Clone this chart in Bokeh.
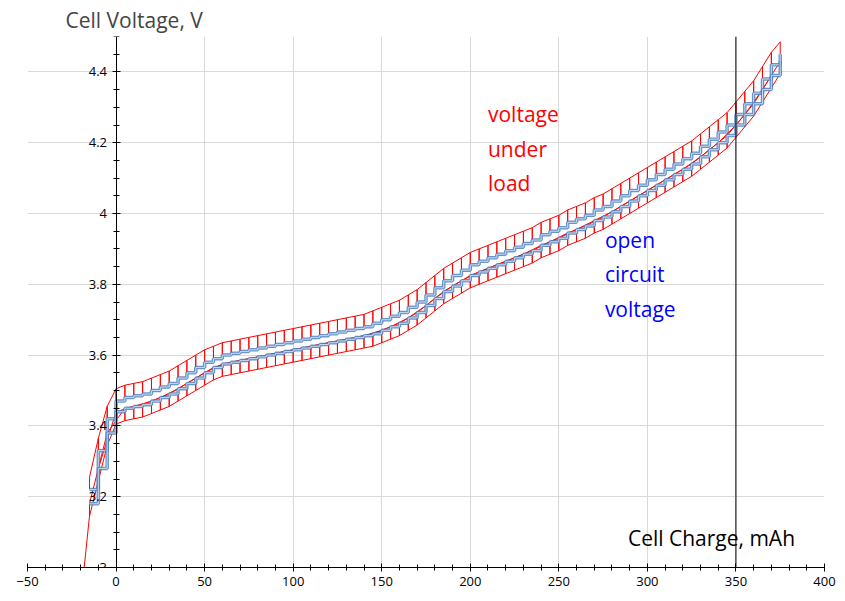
from bokeh.plotting import figure
from bokeh.models import Label, FixedTicker, CustomJSTickFormatter
from bokeh.embed import file_html
from bokeh.resources import INLINE

charge_mah = [-15, -10, -5] + list(range(0, 380, 5))
ocv_after_charge = [3.22, 3.33, 3.42, 3.47, 3.48, 3.485, 3.49, 3.50, 3.51, 3.52, 3.535, 3.55, 3.565, 3.58,
    3.59, 3.60, 3.605, 3.61, 3.615, 3.62, 3.625, 3.63, 3.635, 3.64, 3.645, 3.65, 3.655, 3.66, 3.665,
    3.67, 3.675, 3.68, 3.69, 3.70, 3.71, 3.72, 3.735, 3.75, 3.77, 3.79, 3.81, 3.825, 3.84, 3.855,
    3.865, 3.875, 3.885, 3.895, 3.905, 3.915, 3.925, 3.94, 3.95, 3.96, 3.975, 3.985, 3.995, 4.01,
    4.02, 4.035, 4.05, 4.065, 4.08, 4.095, 4.11, 4.125, 4.14, 4.155, 4.17, 4.19, 4.21, 4.23, 4.25,
    4.28, 4.31, 4.34, 4.38, 4.42, 4.45]
ocv_after_discharge = [3.18, 3.28, 3.38, 3.44, 3.45, 3.455, 3.46, 3.47, 3.48, 3.49, 3.505, 3.52, 3.535, 3.55,
    3.565, 3.575, 3.58, 3.585, 3.59, 3.595, 3.60, 3.605, 3.61, 3.615, 3.62, 3.625, 3.63, 3.635, 3.64,
    3.645, 3.65, 3.655, 3.66, 3.67, 3.68, 3.69, 3.705, 3.72, 3.74, 3.76, 3.78, 3.795, 3.81, 3.825,
    3.835, 3.845, 3.855, 3.865, 3.875, 3.885, 3.895, 3.91, 3.92, 3.93, 3.945, 3.955, 3.965, 3.98,
    3.99, 4.005, 4.02, 4.035, 4.05, 4.065, 4.08, 4.095, 4.11, 4.125, 4.14, 4.16, 4.18, 4.20, 4.22,
    4.25, 4.28, 4.31, 4.35, 4.39, 4.43]
charge_overvoltage = [0.035] * len(charge_mah)
discharge_undervoltage = [0.035] * len(charge_mah)
x_ticks = list(range(-50, 401, 50))
y_ticks = [3, 3.2, 3.4, 3.6, 3.8, 4, 4.2, 4.4]

p = figure(width=837, height=595, x_range=(-50, 400), y_range=(3, 4.5),
           output_backend="svg", toolbar_location=None,
           min_border_left=27, min_border_right=13, min_border_top=8, min_border_bottom=28)
p.outline_line_color = None
p.border_fill_color = "white"
p.title.text = "Cell Voltage, V"
p.title.text_font = "Open Sans"
p.title.text_font_size = "21px"
p.title.text_font_style = "normal"
p.title.offset = 38
p.title.standoff = 6

rx_c, ry_c, rx_d, ry_d = [], [], [], []
n = len(charge_mah)
for i in range(n - 1):
    x0, x1 = charge_mah[i], charge_mah[i + 1]
    rx_c += [x0, x0, x1, x1]
    ry_c += [ocv_after_charge[i], ocv_after_charge[i] + charge_overvoltage[i],
             ocv_after_charge[i + 1] + charge_overvoltage[i + 1], ocv_after_charge[i + 1]]
    rx_d += [x1, x1, x0, x0]
    ry_d += [ocv_after_discharge[i + 1], ocv_after_discharge[i + 1] - discharge_undervoltage[i + 1],
             ocv_after_discharge[i] - discharge_undervoltage[i], ocv_after_discharge[i]]
p.line(rx_c, ry_c, color="red", line_width=1)
p.line(rx_d, ry_d, color="red", line_width=1)
p.line([charge_mah[0], charge_mah[0] - 3], [ocv_after_discharge[0] - discharge_undervoltage[0], 3.0], color="red")

for ys in (ocv_after_charge, ocv_after_discharge):
    p.step(charge_mah, ys, mode="after", color="#4f81bd", line_width=3.5, alpha=0.85)
    p.step(charge_mah, ys, mode="after", color="#c6d9f1", line_width=1)

p.segment(x0=[350], y0=[3.0], x1=[350], y1=[4.5], color="black", line_width=1)

p.xgrid.grid_line_color = "#d9d9d9"
p.ygrid.grid_line_color = "#d9d9d9"
p.xaxis.ticker = FixedTicker(ticks=x_ticks, minor_ticks=list(range(-50, 401, 10)))
p.yaxis.ticker = FixedTicker(ticks=y_ticks, minor_ticks=[3 + 0.05 * k for k in range(31)])
p.yaxis.fixed_location = 0
p.yaxis.formatter = CustomJSTickFormatter(code="return String(Math.round(tick*10)/10)")
for ax in (p.xaxis[0], p.yaxis[0]):
    ax.axis_line_color = "black"
    ax.major_tick_line_color = "black"
    ax.minor_tick_line_color = "black"
    ax.major_tick_in = 4
    ax.major_tick_out = 4
    ax.minor_tick_in = 3
    ax.minor_tick_out = 3
    ax.major_label_text_font = "Open Sans"
    ax.major_label_text_font_size = "13px"
    ax.major_label_text_color = "black"

def lab(x, y, t, c):
    p.add_layout(Label(x=x, y=y, text=t, text_color=c, text_font="Open Sans",
                       text_font_size="21px", text_baseline="middle"))

for i, t in enumerate(["voltage", "under", "load"]):
    lab(210, 4.28 - 0.097 * i, t, "red")
for i, t in enumerate(["open", "circuit", "voltage"]):
    lab(276, 3.925 - 0.097 * i, t, "blue")
lab(289, 3.082, "Cell Charge, mAh", "black")

open("out.html", "w").write(file_html(p, INLINE))
